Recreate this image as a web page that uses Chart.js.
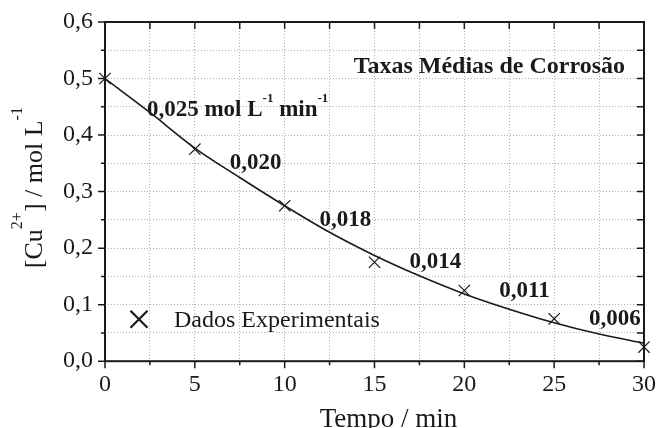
<!DOCTYPE html>
<html>
<head>
<meta charset="utf-8">
<script src="https://cdn.jsdelivr.net/npm/chart.js@4.4.1/dist/chart.umd.min.js"></script>
<style>
  html, body { margin: 0; padding: 0; background: #fff; }
  #wrap { width: 656px; height: 428px; }
</style>
</head>
<body>
<div id="wrap"><canvas id="chart"></canvas></div>
<script>
// experimental points
const times = [0, 5, 10, 15, 20, 25, 30];
const cuConc = [0.5, 0.375, 0.275, 0.175, 0.125, 0.075, 0.025];
// fitted curve
const fitTimes = [0, 2.5, 5, 7.5, 10, 12.5, 15, 17.5, 20, 22.5, 25, 27.5, 30];
const fitConc = [0.50, 0.44, 0.377, 0.325, 0.275, 0.228, 0.187, 0.151, 0.119, 0.092, 0.068, 0.048, 0.032];
// mean corrosion rates between consecutive points
const rates = ["0,025", "0,020", "0,018", "0,014", "0,011", "0,006"];

const SERIF = '"Liberation Serif", "Times New Roman", serif';
const INK = "#1a1a1a";

function drawRich(ctx, parts, x, y, size, bold, align, supRise, supScale) {
  const font = (s) => (bold ? "bold " : "") + s + "px " + SERIF;
  const supSize = Math.round(size * (supScale || 0.55));
  let w = 0;
  parts.forEach(([t, sup]) => {
    ctx.font = font(sup ? supSize : size);
    w += ctx.measureText(t).width;
  });
  let cx = align === "center" ? x - w / 2 : align === "right" ? x - w : x;
  parts.forEach(([t, sup]) => {
    ctx.font = font(sup ? supSize : size);
    ctx.fillText(t, cx, sup ? y - size * supRise : y);
    cx += ctx.measureText(t).width;
  });
}

const decorPlugin = {
  id: "decor",
  afterDraw(chart) {
    const { ctx, chartArea: a, scales } = chart;
    const x = scales.x, y = scales.y;
    ctx.save();
    ctx.strokeStyle = INK;
    ctx.fillStyle = INK;
    ctx.textBaseline = "alphabetic";

    // tick marks
    ctx.lineWidth = 1.5;
    ctx.beginPath();
    x.ticks.forEach((t) => {
      const px = x.getPixelForValue(t.value);
      const major = Math.abs(t.value % 5) < 1e-6;
      ctx.moveTo(px, a.bottom);
      ctx.lineTo(px, a.bottom + (major ? 7 : 4));
      ctx.moveTo(px, a.top);
      ctx.lineTo(px, a.top + 7);
    });
    y.ticks.forEach((t) => {
      const py = y.getPixelForValue(t.value);
      const major = Math.round(t.value * 100) % 10 === 0;
      ctx.moveTo(a.left, py);
      ctx.lineTo(a.left - (major ? 7 : 4), py);
      ctx.moveTo(a.right, py);
      ctx.lineTo(a.right - 7, py);
    });
    ctx.stroke();

    // frame
    ctx.lineWidth = 2;
    ctx.strokeRect(a.left, a.top, a.right - a.left, a.bottom - a.top);

    // title inside the plot
    ctx.textAlign = "left";
    drawRich(ctx, [["Taxas Médias de Corrosão"]], a.right - 19, a.top + 51, 24, true, "right", 0);

    // rate labels, placed next to the middle of each interval
    rates.forEach((r, i) => {
      const mt = (times[i] + times[i + 1]) / 2;
      const mc = (cuConc[i] + cuConc[i + 1]) / 2;
      const lx = x.getPixelForValue(mt) - 10 + (i === 0 ? 7 : 0);
      const ly = y.getPixelForValue(mc) - 8 + (i === 0 ? 10 : 0);
      const parts = i === 0
        ? [[r + " mol L"], ["-1", true], [" min"], ["-1", true]]
        : [[r]];
      drawRich(ctx, parts, lx, ly, 23, true, "left", 0.6);
    });

    // legend
    const lgx = a.left + 34, lgy = a.bottom - 42;
    ctx.lineWidth = 2.2;
    ctx.beginPath();
    ctx.moveTo(lgx - 8.5, lgy - 8.5); ctx.lineTo(lgx + 8.5, lgy + 8.5);
    ctx.moveTo(lgx + 8.5, lgy - 8.5); ctx.lineTo(lgx - 8.5, lgy + 8.5);
    ctx.stroke();
    drawRich(ctx, [["Dados Experimentais"]], a.left + 69, lgy + 8, 24, false, "left", 0);

    // axis titles
    drawRich(ctx, [["Tempo / min"]], (a.left + a.right) / 2 + 14, chart.height - 1, 27, false, "center", 0);
    ctx.translate(42, (a.top + a.bottom) / 2 - 4);
    ctx.rotate(-Math.PI / 2);
    drawRich(ctx, [["[Cu"], ["2+", true], ["] / mol L"], ["-1", true]], 0, 0, 26, false, "center", 0.77, 0.62);
    ctx.restore();
  }
};

new Chart(document.getElementById("chart"), {
  type: "scatter",
  data: {
    datasets: [
      {
        label: "Ajuste",
        data: fitTimes.map((t, i) => ({ x: t, y: fitConc[i] })),
        showLine: true,
        borderColor: INK,
        borderWidth: 1.6,
        pointRadius: 0,
        tension: 0.4,
        cubicInterpolationMode: "monotone",
      },
      {
        label: "Dados Experimentais",
        data: times.map((t, i) => ({ x: t, y: cuConc[i] })),
        showLine: false,
        pointStyle: "crossRot",
        pointRadius: 8,
        borderWidth: 1.2,
        borderColor: INK,
        backgroundColor: INK,
        clip: false,
      },
    ],
  },
  options: {
    responsive: true,
    maintainAspectRatio: false,
    animation: false,
    layout: { padding: { left: 58, right: 12, top: 22, bottom: 27 } },
    plugins: { legend: { display: false }, tooltip: { enabled: false } },
    scales: {
      x: {
        type: "linear",
        min: 0,
        max: 30,
        afterFit: (scale) => { scale.paddingRight = 0; },
        grid: { color: "#b0b0b0", lineWidth: 1, tickLength: 7, tickColor: "transparent" },
        border: { display: false, dash: [1, 2] },
        ticks: {
          stepSize: 2.5,
          autoSkip: false,
          maxRotation: 0,
          padding: 2,
          color: INK,
          font: { family: SERIF, size: 24 },
          callback: (v) => (Math.abs(v % 5) < 1e-6 ? String(v) : ""),
        },
      },
      y: {
        type: "linear",
        min: 0,
        max: 0.6,
        grid: { color: "#b0b0b0", lineWidth: 1, tickLength: 7, tickColor: "transparent" },
        border: { display: false, dash: [1, 2] },
        ticks: {
          stepSize: 0.05,
          autoSkip: false,
          padding: 5,
          color: INK,
          font: { family: SERIF, size: 24 },
          callback: (v) => (Math.round(v * 100) % 10 === 0 ? v.toFixed(1).replace(".", ",") : ""),
        },
      },
    },
  },
  plugins: [decorPlugin],
});
</script>
</body>
</html>
